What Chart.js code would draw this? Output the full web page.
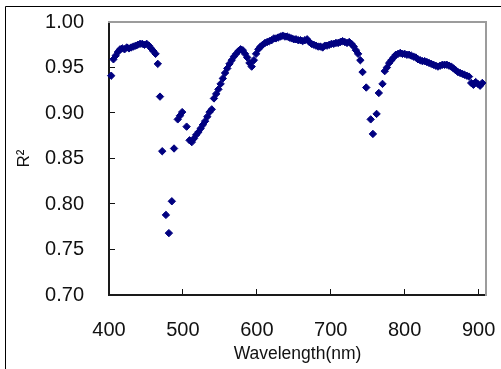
<!DOCTYPE html>
<html>
<head>
<meta charset="utf-8">
<script src="https://cdn.jsdelivr.net/npm/chart.js@4/dist/chart.umd.min.js"></script>
<style>
html,body{margin:0;padding:0;background:#fff;}
canvas{display:block;}
</style>
</head>
<body>
<canvas id="c" width="501" height="369"></canvas>
<script>
// Wavelength (nm)
const wavelengths = [
 403,406,409,412,415,418,421,424,427,430,433,436,439,442,445,448,451,454,457,460,463,466,
 469,472,477,481,485,488,493,496,499,505,509,
 512,515,518,521,524,527,530,533,536,539,542,545,548,551,554,557,560,563,566,569,572,575,578,
 581,584,587,590,593,596,599,602,605,608,611,614,617,620,623,626,629,632,635,638,641,644,647,
 650,653,656,659,662,665,668,671,674,677,680,683,686,689,692,695,698,701,704,707,710,713,716,
 719,722,725,728,731,734,737,740,743,748,754,757,762,765,770,773,776,779,782,785,788,791,794,
 797,800,803,806,809,812,815,818,821,824,827,830,833,836,839,842,845,848,851,854,857,860,863,
 866,869,872,875,878,881,884,887,890,893,896,899,902,905
];
// R^2 values
const r2Values = [
 0.941,0.959,0.963,0.967,0.970,0.971,0.970,0.972,0.971,0.972,0.973,0.974,0.975,0.976,0.976,0.975,0.976,0.974,0.971,0.968,0.965,0.954,
 0.918,0.858,0.788,0.768,0.803,0.861,0.893,0.897,0.901,0.885,0.870,
 0.868,0.872,0.876,0.879,0.883,0.887,0.891,0.896,0.901,0.904,0.916,0.921,0.926,0.932,0.938,0.944,0.949,0.954,0.958,0.962,0.965,0.968,0.970,
 0.969,0.965,0.961,0.955,0.951,0.958,0.965,0.970,0.973,0.975,0.977,0.978,0.979,0.980,0.982,0.982,0.983,0.984,0.985,0.984,0.984,0.983,0.982,
 0.981,0.981,0.980,0.980,0.979,0.980,0.981,0.978,0.976,0.975,0.974,0.973,0.973,0.972,0.974,0.974,0.975,0.976,0.976,0.977,0.977,0.978,0.979,
 0.978,0.977,0.978,0.976,0.973,0.969,0.965,0.958,0.945,0.928,0.893,0.877,0.899,0.922,0.932,0.946,0.950,0.955,0.958,0.961,0.964,0.965,0.966,
 0.965,0.965,0.964,0.964,0.963,0.962,0.961,0.959,0.958,0.957,0.957,0.956,0.955,0.954,0.953,0.952,0.951,0.952,0.953,0.953,0.953,0.952,0.951,
 0.949,0.947,0.945,0.944,0.943,0.942,0.941,0.940,0.933,0.931,0.934,0.932,0.930,0.933
];
const xTickValues = [400, 500, 600, 700, 800, 900];
const yTickValues = [0.70, 0.75, 0.80, 0.85, 0.90, 0.95, 1.00];
const xTitle = 'Wavelength(nm)';
const yTitle = 'R\u00B2';

const FONT = "'Liberation Sans', Arial, sans-serif";

const outerBorder = {
  id: 'outerBorder',
  beforeDraw(chart) {
    const ctx = chart.ctx;
    ctx.save();
    ctx.lineWidth = 1;
    ctx.strokeStyle = '#000000';
    ctx.beginPath();
    ctx.moveTo(5.5, 369);
    ctx.lineTo(5.5, 6.5);
    ctx.lineTo(501, 6.5);
    ctx.stroke();
    ctx.restore();
  }
};

const frameAxis = (pos) => ({
  type: 'linear', position: pos, display: true,
  min: 0, max: 1,
  ticks: {display: false},
  grid: {display: false, drawTicks: false},
  border: {display: true, color: '#9c9c9c', width: 2},
  afterFit: s => {
    if (pos === 'top') s.height = 0; else s.width = 0;
    s.paddingLeft = 0; s.paddingRight = 0; s.paddingTop = 0; s.paddingBottom = 0;
  }
});

new Chart(document.getElementById('c'), {
  type: 'scatter',
  data: {
    datasets: [{
      data: wavelengths.map((w, i) => ({x: w, y: r2Values[i]})),
      xAxisID: 'x', yAxisID: 'y',
      pointStyle: 'rectRot',
      pointRadius: 3.7,
      pointBorderWidth: 1,
      backgroundColor: '#000080',
      borderColor: '#000080',
      clip: false
    }]
  },
  options: {
    responsive: false,
    animation: false,
    devicePixelRatio: 1,
    layout: {padding: {left: 0, top: 22, right: 15, bottom: 0}},
    plugins: {legend: {display: false}, tooltip: {enabled: false}},
    scales: {
      x: {
        type: 'linear', position: 'bottom', min: 400, max: 910,
        afterBuildTicks: s => { s.ticks = xTickValues.map(v => ({value: v})); },
        afterFit: s => { s.height = 74; s.paddingLeft = 0; s.paddingRight = 0; },
        grid: {display: true, drawOnChartArea: false, drawTicks: true, tickLength: -6, color: '#111111', lineWidth: 1},
        border: {display: true, color: '#1a1a1a', width: 2},
        ticks: {
          padding: 29, color: '#111', maxRotation: 0, autoSkip: false,
          font: {family: FONT, size: 20},
          callback: v => String(v)
        },
        title: {display: true, text: xTitle, color: '#111', font: {family: FONT, size: 17.5}, padding: {top: 0, bottom: 4}}
      },
      y: {
        type: 'linear', position: 'left', min: 0.70, max: 1.00,
        afterBuildTicks: s => { s.ticks = yTickValues.map(v => ({value: v})); },
        afterFit: s => { s.width = 109; s.paddingTop = 0; s.paddingBottom = 0; },
        grid: {display: true, drawOnChartArea: false, drawTicks: true, tickLength: -6, color: '#111111', lineWidth: 1},
        border: {display: true, color: '#1a1a1a', width: 2},
        ticks: {
          padding: 31, color: '#111', autoSkip: false,
          font: {family: FONT, size: 20},
          callback: v => Number(v).toFixed(2)
        },
        title: {display: true, text: yTitle, color: '#111', font: {family: FONT, size: 17}, padding: {top: 14, bottom: 0}}
      },
      xTop: frameAxis('top'),
      yRight: frameAxis('right')
    }
  },
  plugins: [outerBorder]
});
</script>
</body>
</html>
